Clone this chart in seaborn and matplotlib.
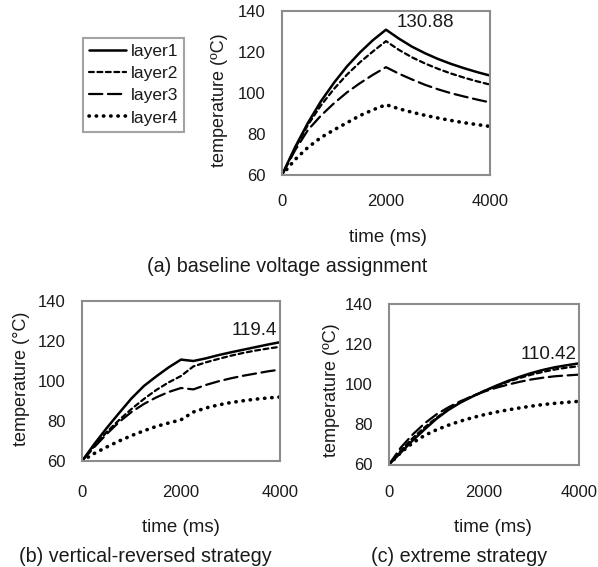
import numpy as np
import pandas as pd
import matplotlib
matplotlib.use("Agg")
import matplotlib.pyplot as plt
import seaborn as sns

sns.set_theme(style="white")
plt.rcParams['font.family'] = ['Liberation Sans', 'DejaVu Sans']

time_ms = [0, 250, 500, 750, 1000, 1250, 1500, 1750, 2000,
           2250, 2500, 2750, 3000, 3250, 3500, 3750, 4000]
layers = ["layer1", "layer2", "layer3", "layer4"]

# (a) baseline voltage assignment
a_layer1 = [60, 73.5, 85.5, 96, 105, 113, 119.8, 125.8, 130.88,
            126.5, 122.6, 119.4, 116.6, 114.2, 112.1, 110.2, 108.5]
a_layer2 = [60, 73, 84.5, 94, 102, 109, 115, 120.3, 125.3,
            121, 117.4, 114.4, 111.8, 109.5, 107.5, 105.7, 104.1]
a_layer3 = [60, 72, 82, 89, 95, 100.3, 104.8, 108.9, 112.6,
            109.4, 106.6, 104, 101.8, 99.9, 98.3, 96.8, 95.4]
a_layer4 = [60, 67.5, 73.5, 78.3, 82, 85.5, 89, 91.8, 94.3,
            92.3, 90.6, 89.1, 87.8, 86.6, 85.5, 84.6, 83.7]

# (b) vertical-reversed strategy
b_layer1 = [60, 68.5, 76.5, 84, 91.3, 97.5, 102.3, 106.8, 110.7,
            110, 111.3, 112.9, 114.3, 115.6, 116.9, 118.2, 119.4]
b_layer2 = [60, 67.5, 74.5, 80.5, 86, 91, 95.5, 99.3, 102.5,
            107.3, 109.3, 111, 112.6, 114, 115.2, 116.2, 117.1]
b_layer3 = [60, 67, 73.5, 79.5, 84.5, 88.5, 91.8, 94.5, 96.5,
            95.8, 98, 99.8, 101.3, 102.6, 103.7, 104.8, 105.7]
b_layer4 = [60, 63.8, 67, 70, 72.7, 75.1, 77.3, 79, 80.6,
            84.5, 86.5, 88, 89.2, 90.1, 90.9, 91.5, 92]

# (c) extreme strategy
c_layer1 = [60, 66, 72, 77.5, 82.8, 87.2, 90.8, 93.8, 96.6,
            99.2, 101.6, 103.7, 105.6, 107.2, 108.5, 109.5, 110.42]
c_layer2 = [60, 67, 73.2, 78.5, 83.3, 87.5, 91, 94, 96.6,
            99, 101.2, 103.1, 104.8, 106.2, 107.4, 108.3, 109]
c_layer3 = [60, 68.5, 75, 80.5, 85, 88.5, 91.5, 94, 96.3,
            98.2, 99.8, 101.2, 102.4, 103.3, 104, 104.4, 104.8]
c_layer4 = [60, 66, 70.8, 74.5, 77.3, 79.6, 81.6, 83.3, 84.8,
            86.1, 87.2, 88.2, 89.1, 89.9, 90.5, 91, 91.5]

x_ticks = [0, 2000, 4000]
y_ticks = [60, 80, 100, 120, 140]

panels = [
    dict(series=[a_layer1, a_layer2, a_layer3, a_layer4],
         rect=[282/598, 1-175/567, 208/598, 164/567],
         title="(a) baseline voltage assignment", ylabel="temperature (ºC)",
         peak="130.88", peak_xy=(2760, 134.3), xpad=14,
         title_xy=(287/598, 1-267/567), xl_xy=(388/598, 1-238/567),
         yl_xy=(219/598, 1-100/567)),
    dict(series=[b_layer1, b_layer2, b_layer3, b_layer4],
         rect=[82/598, 1-461/567, 198/598, 160/567],
         title="(b) vertical-reversed strategy", ylabel="temperature (°C)",
         peak="119.4", peak_xy=(3485, 125.3), xpad=17,
         title_xy=(145/598, 1-557/567), xl_xy=(181/598, 1-527/567),
         yl_xy=(22/598, 1-379/567)),
    dict(series=[c_layer1, c_layer2, c_layer3, c_layer4],
         rect=[389/598, 1-464.5/567, 190/598, 160.5/567],
         title="(c) extreme strategy", ylabel="temperature (ºC)",
         peak="110.42", peak_xy=(3358, 114.6), xpad=15,
         title_xy=(459/598, 1-557/567), xl_xy=(493/598, 1-527/567),
         yl_xy=(331/598, 1-390/567)),
]

styles = {
    "layer1": dict(linestyle="-", linewidth=1.8),
    "layer2": dict(linestyle=(0, (2.2, 1.6)), linewidth=1.6),
    "layer3": dict(linestyle=(0, (6, 2.5)), linewidth=1.6),
    "layer4": dict(linestyle=(0, (0.1, 1.9)), linewidth=2.6),
}

TXT = "#1a1a1a"
fig = plt.figure(figsize=(5.98, 5.67), dpi=100)
fig.patch.set_facecolor("white")

handles = []
for p in panels:
    ax = fig.add_axes(p["rect"])
    for name, vals in zip(layers, p["series"]):
        df = pd.DataFrame({"time": time_ms, "temp": vals})
        sns.lineplot(data=df, x="time", y="temp", ax=ax, color="black",
                     label=name, **styles[name])
        ln = ax.lines[-1]
        ln.set_dash_capstyle("round")
        ln.set_solid_capstyle("round")
    if not handles:
        handles = list(ax.lines)
    if ax.get_legend() is not None:
        ax.get_legend().remove()
    ax.set_xlim(0, 4000)
    ax.set_ylim(60, 140)
    ax.set_xticks(x_ticks)
    ax.set_yticks(y_ticks)
    ax.tick_params(axis="both", length=0, labelsize=12, colors=TXT)
    ax.tick_params(axis="x", pad=p["xpad"])
    ax.tick_params(axis="y", pad=12)
    ax.set_xlabel("")
    ax.set_ylabel("")
    for s in ax.spines.values():
        s.set_visible(True)
        s.set_color("#8c8c8c")
        s.set_linewidth(1.5)
    ax.text(p["peak_xy"][0], p["peak_xy"][1], p["peak"], ha="center",
            va="center", fontsize=13.5, color=TXT)
    fig.text(p["xl_xy"][0], p["xl_xy"][1], "time (ms)", ha="center",
             va="center", fontsize=13.5, color=TXT)
    fig.text(p["yl_xy"][0], p["yl_xy"][1], p["ylabel"], ha="center",
             va="center", rotation=90, fontsize=13, color=TXT)
    fig.text(p["title_xy"][0], p["title_xy"][1], p["title"], ha="center",
             va="center", fontsize=14.2, color=TXT)

leg = fig.legend(handles, layers, loc="upper left",
                 bbox_to_anchor=(83/598, 1-38/567), frameon=True,
                 fancybox=False, edgecolor="#8c8c8c", fontsize=12.5,
                 handlelength=2.1, handletextpad=0.3, labelspacing=0.4,
                 borderpad=0.35, borderaxespad=0)
leg.get_frame().set_linewidth(1.5)
for t in leg.get_texts():
    t.set_color(TXT)

fig.savefig("out.png", dpi=100, facecolor="white")
